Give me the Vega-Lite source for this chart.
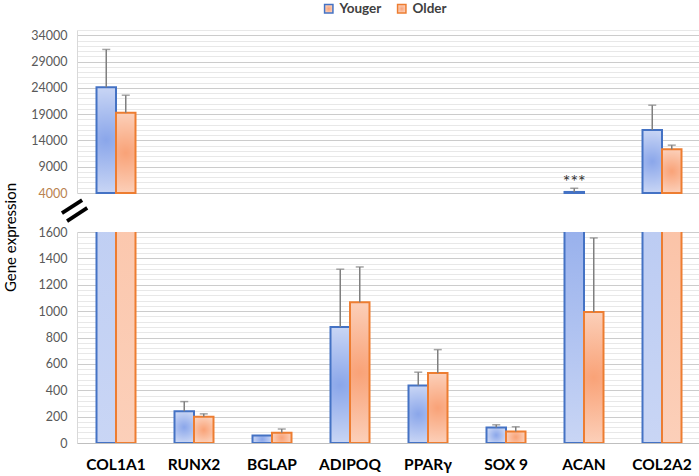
{
  "$schema": "https://vega.github.io/schema/vega-lite/v6.json",
  "padding": {"left": 3, "top": 2, "right": 0, "bottom": 0},
  "config": {
    "font": "Lato",
    "view": {"stroke": null},
    "axis": {"ticks": false, "labelFont": "Lato", "titleFont": "Lato"},
    "axisY": {"labelOverlap": false}
  },
  "data": {
    "values": [
      {"gene": "COL1A1", "group": "Youger", "value": 24100, "err": 31300},
      {"gene": "COL1A1", "group": "Older", "value": 19250, "err": 22600},
      {"gene": "RUNX2", "group": "Youger", "value": 240, "err": 314},
      {"gene": "RUNX2", "group": "Older", "value": 199, "err": 221},
      {"gene": "BGLAP", "group": "Youger", "value": 57, "err": null},
      {"gene": "BGLAP", "group": "Older", "value": 78, "err": 106},
      {"gene": "ADIPOQ", "group": "Youger", "value": 879, "err": 1318},
      {"gene": "ADIPOQ", "group": "Older", "value": 1068, "err": 1335},
      {"gene": "PPARγ", "group": "Youger", "value": 436, "err": 537},
      {"gene": "PPARγ", "group": "Older", "value": 531, "err": 708},
      {"gene": "SOX 9", "group": "Youger", "value": 118, "err": 138},
      {"gene": "SOX 9", "group": "Older", "value": 88, "err": 123},
      {"gene": "ACAN", "group": "Youger", "value": 4200, "err": 4900, "sig": "***"},
      {"gene": "ACAN", "group": "Older", "value": 993, "err": 1555},
      {"gene": "COL2A2", "group": "Youger", "value": 16000, "err": 20700},
      {"gene": "COL2A2", "group": "Older", "value": 12300, "err": 13100}
    ]
  },
  "spacing": 39,
  "bounds": "flush",
  "resolve": {"scale": {"y": "independent", "x": "shared", "stroke": "shared"}},
  "vconcat": [
    {
      "width": 624,
      "height": 163,
      "encoding": {
        "x": {
          "field": "gene", "type": "nominal",
          "sort": ["COL1A1", "RUNX2", "BGLAP", "ADIPOQ", "PPARγ", "SOX 9", "ACAN", "COL2A2"],
          "scale": {"paddingInner": 0.5, "paddingOuter": 0.25},
          "axis": null
        },
        "xOffset": {"field": "group", "type": "nominal", "sort": ["Youger", "Older"], "scale": {"paddingInner": 0, "paddingOuter": 0}}
      },
      "layer": [
        {
          "transform": [{"filter": "datum.value > 4000"}],
          "mark": {"type": "bar", "strokeWidth": 2},
          "encoding": {
            "y": {
              "field": "value", "type": "quantitative",
              "scale": {"domain": [4000, 35000], "zero": false, "nice": false},
              "axis": {
                "title": null,
                "values": [4000,5000,6000,7000,8000,9000,10000,11000,12000,13000,14000,15000,16000,17000,18000,19000,20000,21000,22000,23000,24000,25000,26000,27000,28000,29000,30000,31000,32000,33000,34000,35000],
                "tickCount": 200,
                "format": "d",
                "labelExpr": "(datum.value - 4000) % 5000 === 0 ? datum.label : ''",
                "labelOverlap": false,
                "labelFontSize": 12.5,
                "labelPadding": 10,
                "labelColor": {"condition": {"test": "datum.value === 4000", "value": "#b9824f"}, "value": "#595959"},
                "gridColor": {"condition": {"test": "(datum.value - 4000) % 5000 === 0", "value": "#cccccc"}, "value": "#e8e8e8"},
                "domainColor": "#d9d9d9"
              }
            },
            "y2": {"datum": 4000},
            "stroke": {
              "field": "group", "type": "nominal", "sort": ["Youger", "Older"],
              "scale": {"domain": ["Youger", "Older"], "range": ["#4472C4", "#ED7D31"]},
              "legend": {
                "title": null, "orient": "none", "direction": "horizontal",
                "legendX": 245, "legendY": -28,
                "symbolType": "square", "symbolSize": 70, "symbolStrokeWidth": 1.5,
                "labelFontSize": 13.5, "labelFontWeight": "bold", "labelColor": "#404040",
                "columnPadding": 12,
                "encode": {"symbols": {"update": {"fill": {"signal": "datum.value === 'Youger' ? '#b3c5ef' : '#f9c2a3'"}}}}
              }
            },
            "fill": {
              "condition": {
                "test": "datum.group === 'Youger'",
                "value": {"gradient": "radial", "x1": 0.5, "y1": 0.5, "x2": 0.5, "y2": 0.5, "r1": 0, "r2": 0.75,
                  "stops": [{"offset": 0, "color": "#8aa6ea"}, {"offset": 1, "color": "#e8edfa"}]}
              },
              "value": {"gradient": "radial", "x1": 0.5, "y1": 0.5, "x2": 0.5, "y2": 0.5, "r1": 0, "r2": 0.75,
                "stops": [{"offset": 0, "color": "#f9a277"}, {"offset": 1, "color": "#fde6da"}]}
            }
          }
        },
        {
          "transform": [{"filter": "datum.value > 4000 && datum.err != null"}],
          "mark": {"type": "rule", "color": "#7f7f7f", "strokeWidth": 1.5},
          "encoding": {"y": {"field": "value", "type": "quantitative"}, "y2": {"field": "err"}}
        },
        {
          "transform": [{"filter": "datum.value > 4000 && datum.err != null"}],
          "mark": {"type": "tick", "color": "#7f7f7f", "thickness": 1.5, "size": 8, "orient": "horizontal"},
          "encoding": {"y": {"field": "err", "type": "quantitative"}}
        },
        {
          "transform": [{"filter": "datum.sig != null"}],
          "mark": {"type": "text", "fontSize": 18, "color": "#333333", "dy": 0, "baseline": "alphabetic"},
          "encoding": {"y": {"field": "err", "type": "quantitative"}, "text": {"field": "sig"}}
        }
      ]
    },
    {
      "width": 624,
      "height": 211,
      "encoding": {
        "x": {
          "field": "gene", "type": "nominal",
          "sort": ["COL1A1", "RUNX2", "BGLAP", "ADIPOQ", "PPARγ", "SOX 9", "ACAN", "COL2A2"],
          "scale": {"paddingInner": 0.5, "paddingOuter": 0.25},
          "axis": {"title": null, "labelAngle": 0, "labelFontSize": 15.5, "labelFontWeight": "bold", "labelColor": "#000000", "labelPadding": 14, "domainColor": "#bfbfbf", "grid": false}
        },
        "xOffset": {"field": "group", "type": "nominal", "sort": ["Youger", "Older"], "scale": {"paddingInner": 0, "paddingOuter": 0}}
      },
      "layer": [
        {
          "mark": {"type": "bar", "strokeWidth": 2, "clip": true},
          "encoding": {
            "y": {
              "field": "value", "type": "quantitative",
              "scale": {"domain": [0, 1600], "nice": false},
              "axis": {
                "title": "Gene expression", "titleFontSize": 15, "titleFontWeight": "normal", "titleColor": "#000000",
                "titleX": -62, "titleY": 5, "titleBaseline": "alphabetic", "titleAngle": -90, "titleAlign": "center",
                "values": [0,40,80,120,160,200,240,280,320,360,400,440,480,520,560,600,640,680,720,760,800,840,880,920,960,1000,1040,1080,1120,1160,1200,1240,1280,1320,1360,1400,1440,1480,1520,1560,1600],
                "tickCount": 200,
                "format": "d",
                "labelExpr": "datum.value % 200 === 0 ? datum.label : ''",
                "labelOverlap": false,
                "labelFontSize": 12.5,
                "labelPadding": 10,
                "labelColor": "#595959",
                "gridColor": {"condition": {"test": "datum.value % 200 === 0", "value": "#cccccc"}, "value": "#e8e8e8"},
                "domainColor": "#d9d9d9"
              }
            },
            "stroke": {"field": "group", "type": "nominal", "sort": ["Youger", "Older"]},
            "fill": {
              "condition": {
                "test": "datum.group === 'Youger'",
                "value": {"gradient": "radial", "x1": 0.5, "y1": 0.5, "x2": 0.5, "y2": 0.5, "r1": 0, "r2": 0.75,
                  "stops": [{"offset": 0, "color": "#8aa6ea"}, {"offset": 1, "color": "#e8edfa"}]}
              },
              "value": {"gradient": "radial", "x1": 0.5, "y1": 0.5, "x2": 0.5, "y2": 0.5, "r1": 0, "r2": 0.75,
                "stops": [{"offset": 0, "color": "#f9a277"}, {"offset": 1, "color": "#fde6da"}]}
            }
          }
        },
        {
          "transform": [{"filter": "datum.err != null && datum.err < 1600"}],
          "mark": {"type": "rule", "color": "#7f7f7f", "strokeWidth": 1.5},
          "encoding": {"y": {"field": "value", "type": "quantitative"}, "y2": {"field": "err"}}
        },
        {
          "transform": [{"filter": "datum.err != null && datum.err < 1600"}],
          "mark": {"type": "tick", "color": "#7f7f7f", "thickness": 1.5, "size": 8, "orient": "horizontal"},
          "encoding": {"y": {"field": "err", "type": "quantitative"}}
        },
        {
          "data": {"values": [{"brk": "="}]},
          "mark": {"type": "text", "fontSize": 56, "angle": -33, "color": "#000000", "clip": false, "align": "center", "baseline": "middle"},
          "encoding": {
            "x": {"datum": "COL1A1", "bandPosition": 0},
            "xOffset": {"value": -21},
            "y": {"datum": 1750},
            "text": {"field": "brk"}
          }
        }
      ]
    }
  ]
}
